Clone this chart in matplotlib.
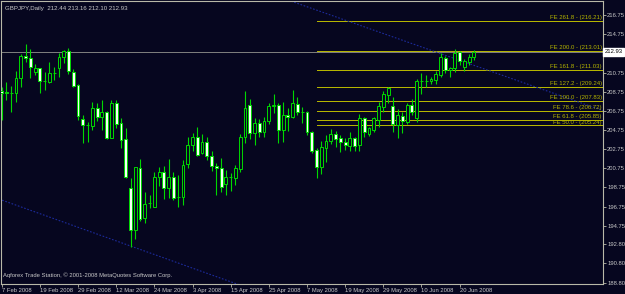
import matplotlib
matplotlib.use("Agg")
import matplotlib.pyplot as plt
import numpy as np

# GBPJPY daily candles, 7 Feb 2008 .. 24 Jun 2008
opens = [208.84, 208.70, 208.58, 208.60, 210.16, 212.53, 212.26, 210.86, 211.21, 209.86,
         209.81, 210.71, 211.21, 212.42, 213.05, 210.86, 209.46, 205.91, 205.30, 205.21,
         207.03, 206.15, 206.67, 203.95, 207.55, 205.46, 203.82, 198.66, 194.30, 200.81,
         195.52, 197.07, 196.73, 199.81, 200.33, 198.66, 199.81, 197.74, 197.72, 201.17,
         203.19, 204.06, 202.38, 203.53, 202.07, 201.02, 200.75, 199.08, 199.79, 199.70,
         200.68, 203.99, 207.37, 204.41, 205.46, 204.58, 205.73, 207.28, 207.37, 204.76,
         206.33, 206.09, 207.48, 206.65, 206.67, 204.58, 202.66, 200.92, 202.91, 203.61,
         204.31, 203.89, 203.53, 203.11, 203.89, 203.19, 205.98, 204.31, 204.76, 205.80,
         207.19, 208.42, 207.30, 205.28, 206.22, 205.62, 207.37, 205.98, 209.86, 209.90,
         209.88, 209.99, 210.51, 212.32, 211.03, 211.21, 212.88, 211.38, 211.84, 212.44]
highs = [209.29, 209.81, 209.39, 210.93, 212.68, 213.72, 213.23, 211.63, 211.27, 210.79,
         211.84, 211.38, 212.78, 213.16, 213.37, 211.14, 209.54, 206.33, 205.56, 207.72,
         207.55, 207.89, 206.74, 207.89, 207.89, 206.04, 205.00, 199.77, 200.92, 201.72,
         198.24, 197.96, 200.40, 200.85, 200.99, 201.69, 200.40, 200.05, 201.62, 203.99,
         204.47, 205.04, 204.34, 203.99, 202.56, 201.27, 201.80, 200.57, 200.23, 201.10,
         204.34, 208.87, 207.97, 205.98, 205.88, 206.09, 207.55, 208.52, 207.55, 207.72,
         207.03, 208.94, 208.18, 207.19, 206.78, 204.68, 202.91, 203.61, 204.23, 204.86,
         204.65, 204.23, 203.89, 204.58, 204.06, 206.40, 206.15, 205.10, 206.15, 207.72,
         208.84, 209.29, 208.24, 206.95, 206.67, 207.55, 208.00, 210.09, 210.69, 210.51,
         210.33, 210.93, 212.78, 212.53, 211.38, 213.23, 213.02, 212.18, 212.68, 213.16]
lows = [205.80, 207.89, 206.67, 207.72, 209.29, 211.90, 210.23, 210.51, 208.60, 208.94,
        209.64, 209.99, 210.33, 211.73, 210.58, 209.29, 205.80, 203.37, 203.53, 204.76,
        205.70, 204.76, 203.82, 203.89, 204.93, 202.91, 199.77, 192.55, 193.36, 195.24,
        195.00, 196.57, 196.70, 198.90, 197.51, 197.61, 197.43, 196.73, 196.91, 200.75,
        202.59, 202.04, 202.25, 201.62, 200.50, 197.96, 198.30, 197.96, 198.41, 199.00,
        200.40, 203.43, 203.78, 203.19, 203.99, 204.06, 205.35, 206.57, 203.43, 203.53,
        204.68, 205.98, 206.33, 205.46, 204.23, 202.32, 199.77, 200.12, 201.38, 203.26,
        203.01, 202.49, 202.66, 202.56, 202.56, 202.56, 204.06, 204.16, 204.58, 205.10,
        206.61, 207.55, 204.52, 203.89, 204.41, 205.35, 206.33, 205.62, 208.49, 209.29,
        209.54, 209.54, 210.33, 210.69, 210.33, 210.79, 211.56, 210.93, 211.56, 212.10]
closes = [208.63, 208.64, 208.62, 210.16, 212.53, 212.32, 211.32, 211.21, 209.88, 209.90,
          210.69, 210.67, 212.42, 213.05, 210.93, 209.39, 206.25, 205.28, 205.26, 207.09,
          206.15, 206.67, 203.89, 207.55, 205.35, 203.71, 199.87, 194.30, 200.85, 195.45,
          196.98, 197.11, 199.81, 200.33, 198.66, 199.81, 197.61, 197.70, 201.10, 203.19,
          204.06, 202.14, 203.53, 202.04, 201.02, 200.75, 198.76, 199.87, 199.83, 200.75,
          203.99, 207.03, 204.41, 205.46, 204.58, 205.70, 207.27, 207.32, 204.76, 206.33,
          206.09, 207.61, 206.61, 206.69, 204.52, 202.56, 200.92, 203.01, 203.61, 204.34,
          203.82, 203.47, 203.19, 203.95, 203.11, 205.98, 204.52, 204.93, 205.98, 207.30,
          208.49, 209.12, 205.35, 206.33, 205.70, 207.37, 206.61, 209.88, 209.90, 209.86,
          210.09, 210.58, 212.42, 211.03, 211.27, 212.78, 211.97, 211.97, 212.42, 212.93]

date_labels = ["7 Feb 2008", "19 Feb 2008", "29 Feb 2008", "12 Mar 2008", "24 Mar 2008",
               "3 Apr 2008", "15 Apr 2008", "25 Apr 2008", "7 May 2008", "19 May 2008",
               "29 May 2008", "10 Jun 2008", "20 Jun 2008"]
# 212.75 sits under the current-price box, so it is left out
price_ticks = [216.75, 214.75, 210.75, 208.75, 206.75, 204.75, 202.75,
               200.75, 198.75, 196.75, 194.75, 192.80, 190.80, 188.80]

# Fibonacci expansion object
fe_pcts = ["261.8", "200.0", "161.8", "127.2", "100.0", "78.6", "61.8", "50.0"]
fe_levels = [216.21, 213.01, 211.03, 209.24, 207.83, 206.72, 205.85, 205.24]
fe_start = 66

# channel trend lines (bar index, price)
upper_line = ([60, 127], [218.35, 206.62])
lower_line = ([-1, 50], [197.61, 188.53])

bid = 212.93
bg = "#06061f"
green = "#00d800"
fe_col = "#b4b400"
txt_col = "#c8c8c8"

fig = plt.figure(figsize=(6.25, 2.94), dpi=100)
fig.patch.set_facecolor(bg)
ax = fig.add_axes([1 / 625, 10 / 294, 602 / 625, 283 / 294])
ax.set_facecolor(bg)

x = np.arange(len(opens))
o = np.array(opens)
c = np.array(closes)
ax.vlines(x, lows, highs, color=green, lw=0.8, zorder=3)
bottom = np.minimum(o, c)
height = np.maximum(np.abs(c - o), 0.02)
face = [bg if cc >= oo else "#f4fff4" for oo, cc in zip(o, c)]
ax.bar(x, height, bottom=bottom, width=0.6, color=face, edgecolor=green,
       linewidth=0.7, zorder=4)

ax.set_xlim(-0.15, 126.06)
ax.set_ylim(188.65, 218.25)

# bid line
ax.axhline(bid, color="#7c7c7c", lw=0.5, zorder=1, antialiased=False)

# fibo expansion lines and labels
ax.hlines(fe_levels, fe_start, 126.06, color=fe_col, lw=0.5, zorder=2, antialiased=False)
for pct, lvl in zip(fe_pcts, fe_levels):
    ax.text(0.998, lvl + 0.08, "FE %s - (%.2f)" % (pct, lvl), transform=ax.get_yaxis_transform(),
            ha="right", va="bottom", fontsize=4.3, color=fe_col, family="Liberation Sans")

# channel lines
ax.plot(*upper_line, color="#1c2a9a", lw=0.8, ls=(0, (1.5, 1.5)), zorder=2)
ax.plot(*lower_line, color="#1c2a9a", lw=0.8, ls=(0, (1.5, 1.5)), zorder=2)

# axes styling
for s in ax.spines.values():
    s.set_color("#b8b8a8")
    s.set_linewidth(0.8)
ax.yaxis.tick_right()
ax.set_yticks(price_ticks)
ax.set_yticklabels(["%.2f" % p for p in price_ticks])
ax.set_xticks(np.arange(len(date_labels)) * 8)
ax.set_xticklabels(date_labels, ha="left")
ax.tick_params(axis="both", colors="#b8b8a8", labelcolor=txt_col, length=2, width=0.6,
               labelsize=4.2, pad=1)
for lab in ax.get_xticklabels() + ax.get_yticklabels():
    lab.set_family("Liberation Sans")

# current price marker
ax.text(1.003, bid, "%.2f" % bid, transform=ax.get_yaxis_transform(), ha="left", va="center",
        fontsize=4.2, color="black", family="Liberation Sans", zorder=10, clip_on=False,
        bbox=dict(boxstyle="square,pad=0.25", fc="white", ec="white"))

# header and footer text
ax.text(0.006, 0.982, "GBPJPY,Daily  212.44 213.16 212.10 212.93", transform=ax.transAxes,
        ha="left", va="top", fontsize=4.4, color=txt_col, family="Liberation Sans")
ax.text(0.003, 0.02, "Aqforex Trade Station, \u00a9 2001-2008 MetaQuotes Software Corp.",
        transform=ax.transAxes, ha="left", va="bottom", fontsize=4.2, color=txt_col,
        family="Liberation Sans")

fig.savefig("out.png", dpi=100, facecolor=bg)
